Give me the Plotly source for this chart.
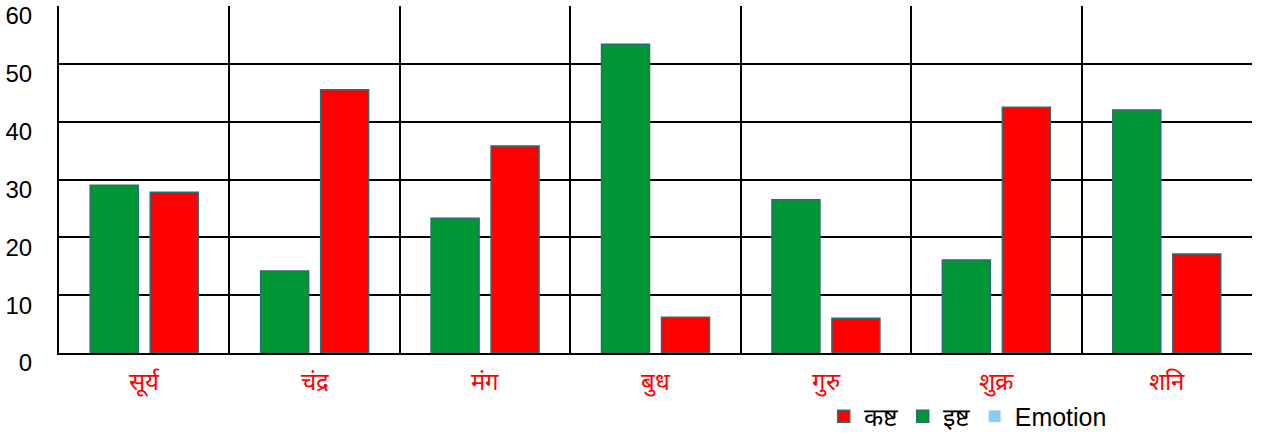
import plotly.graph_objects as go

# categories (planets) and values
categories = ["सूर्य", "चंद्र", "मंग", "बुध", "गुरु", "शुक्र", "शनि"]
isht = [29, 14.2, 23.3, 53.4, 26.5, 16.1, 42]
kasht = [27.8, 45.5, 35.8, 6.2, 6, 42.5, 17.1]
emotion = [None, None, None, None, None, None, None]
y_ticks = [0, 10, 20, 30, 40, 50, 60]

outline = dict(color="#2a6f70", width=1.5)

fig = go.Figure()
fig.add_trace(go.Bar(
    x=categories, y=isht, name="इष्ट", offsetgroup="a", legendrank=2,
    marker=dict(color="#009535", line=outline),
))
fig.add_trace(go.Bar(
    x=categories, y=kasht, name="कष्ट", offsetgroup="b", legendrank=1,
    marker=dict(color="#ff0000", line=outline),
))
fig.add_trace(go.Bar(
    x=categories, y=emotion, name="Emotion", offsetgroup="a", legendrank=3,
    marker=dict(color="#87ceeb"),
))

fig.update_layout(
    width=1261, height=436,
    margin=dict(l=59, r=9, t=6, b=83),
    paper_bgcolor="white", plot_bgcolor="white",
    barmode="group", bargap=0.296, bargroupgap=0.2,
    font=dict(family="Liberation Sans, Arial, sans-serif", color="black"),
    legend=dict(
        orientation="h", x=0.641, xanchor="left",
        yref="container", y=0.045, yanchor="middle",
        font=dict(size=25, color="black"), itemwidth=30,
        tracegroupgap=0, bgcolor="rgba(0,0,0,0)",
    ),
)

fig.update_xaxes(
    tickson="boundaries", showgrid=True, gridcolor="black", gridwidth=2,
    showline=True, linecolor="black", linewidth=2, ticks="",
    tickfont=dict(size=24, color="red"), ticklabelstandoff=6,
    automargin=False,
)
fig.update_yaxes(
    range=[0, 60], tickvals=y_ticks, showgrid=True, gridcolor="black",
    gridwidth=2, showline=True, linecolor="black", linewidth=2,
    ticks="inside", ticklen=8, tickwidth=2, tickcolor="black",
    tickfont=dict(size=24, color="black"), ticklabelstandoff=20,
    ticklabelshift=10, ticklabeloverflow="allow",
    zeroline=False, automargin=False,
)

# drop the default page margin so the figure sits at the window corner
fig.write_html(
    "out.html",
    config={"displayModeBar": False},
    post_script="document.body.style.margin='0';",
)
